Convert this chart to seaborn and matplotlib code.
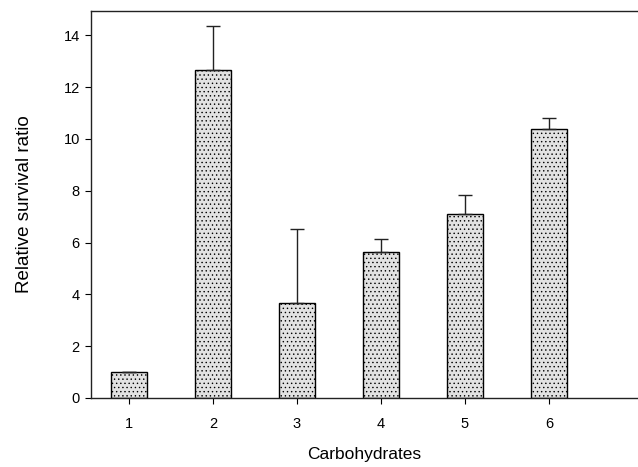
import numpy as np
import pandas as pd
import matplotlib
matplotlib.use("Agg")
import matplotlib.pyplot as plt
import seaborn as sns

# data
carbs = ["1", "2", "3", "4", "5", "6"]
ratio = [1.0, 12.65, 3.65, 5.65, 7.1, 10.38]
err_up = [0.0, 1.72, 2.87, 0.5, 0.75, 0.43]

sns.set_style("ticks")
plt.rcParams["font.family"] = ["Liberation Sans", "DejaVu Sans"]
plt.rcParams["text.color"] = "black"
plt.rcParams["axes.labelcolor"] = "black"
plt.rcParams["xtick.color"] = "black"
plt.rcParams["ytick.color"] = "black"
plt.rcParams["hatch.color"] = "#b4b4b4"
plt.rcParams["hatch.linewidth"] = 0.5

df = pd.DataFrame({"carb": carbs, "ratio": ratio})

fig = plt.figure(figsize = (6.38, 4.67), dpi = 100)
ax = fig.add_axes([0.1426, 0.1478, 0.8574, 0.8286])

sns.barplot(data = df, x = "carb", y = "ratio", color = "#e2e2e2",
            width = 0.42, edgecolor = "black", linewidth = 1.0,
            errorbar = None, ax = ax)
for p in ax.patches:
    p.set_hatch("....")

# upper-only error bars
xs = [p.get_x() + p.get_width() / 2 for p in ax.patches]
ax.errorbar(xs, ratio, yerr = [np.zeros(len(ratio)), err_up], fmt = "none",
            ecolor = "#222222", elinewidth = 1.0, capsize = 5, capthick = 1.0)

ax.set_xlim(-0.452, 6.06)
ax.set_ylim(0, 14.94)
ax.set_yticks([0, 2, 4, 6, 8, 10, 12, 14])
ax.spines["right"].set_visible(False)
for s in ["left", "top", "bottom"]:
    ax.spines[s].set_color("#222222")
    ax.spines[s].set_linewidth(1.0)
ax.tick_params(axis = "both", length = 4, width = 0.8, labelsize = 10.5, pad = 4)
ax.tick_params(axis = "x", pad = 10)

ax.set_xlabel("Carbohydrates", fontsize = 12.5, labelpad = 11)
ax.set_ylabel("Relative survival ratio", fontsize = 13.5, labelpad = 22)

fig.savefig("out.png", dpi = 100)
